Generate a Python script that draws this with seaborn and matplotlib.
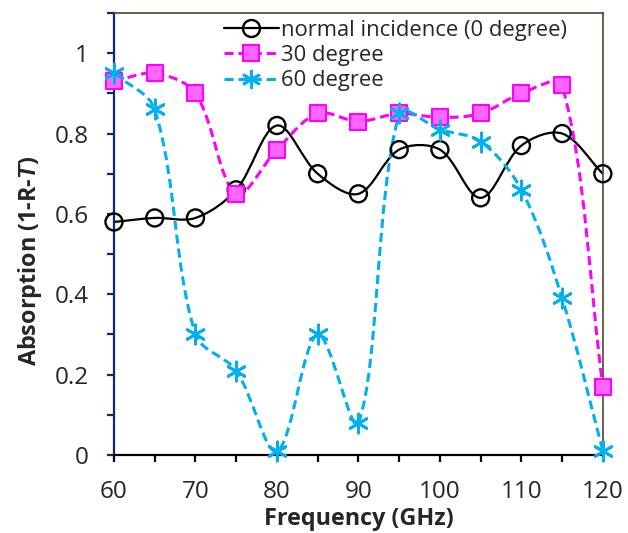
import matplotlib
matplotlib.use("Agg")
import matplotlib.pyplot as plt
import numpy as np
import seaborn as sns
from matplotlib.lines import Line2D
from matplotlib.patches import PathPatch
from matplotlib.path import Path
from matplotlib.ticker import MultipleLocator

freq = [60, 65, 70, 75, 80, 85, 90, 95, 100, 105, 110, 115, 120]
normal_0 = [0.58, 0.59, 0.59, 0.66, 0.82, 0.70, 0.65, 0.76, 0.76, 0.64, 0.77, 0.80, 0.70]
deg_30 = [0.93, 0.95, 0.90, 0.65, 0.76, 0.85, 0.83, 0.85, 0.84, 0.85, 0.90, 0.92, 0.17]
deg_60 = [0.95, 0.86, 0.30, 0.21, 0.01, 0.30, 0.08, 0.85, 0.81, 0.78, 0.66, 0.39, 0.01]
labels = ["normal incidence (0 degree)", "30 degree", "60 degree"]

sns.set_theme(style="white")
plt.rcParams["font.family"] = ["Open Sans", "DejaVu Sans"]
plt.rcParams["mathtext.fontset"] = "custom"
plt.rcParams["mathtext.rm"] = "Open Sans:bold"
plt.rcParams["mathtext.it"] = "Liberation Sans:italic:bold"

NAVY = "#0f2a6a"
OLIVE = "#4e4832"


def smooth_path(ax, x, y):
    # excel-style smoothed line, bezier handles weighted by on-screen segment length
    pts = ax.transData.transform(np.column_stack([x, y]).astype(float))
    ext = np.vstack([pts[0], pts, pts[-1]])
    verts = [pts[0]]
    codes = [Path.MOVETO]
    for i in range(1, len(ext) - 2):
        p0, p1, p2, p3 = ext[i - 1], ext[i], ext[i + 1], ext[i + 2]
        d01, d12, d23 = (np.hypot(*(b - a)) for a, b in [(p0, p1), (p1, p2), (p2, p3)])
        c1 = p1 + (p2 - p0) * d12 / max(d01 + d12, 1e-9) / 3
        c2 = p2 - (p3 - p1) * d12 / max(d12 + d23, 1e-9) / 3
        verts += [c1, c2, p2]
        codes += [Path.CURVE4] * 3
    verts = ax.transData.inverted().transform(np.array(verts))
    return Path(verts, codes)


fig = plt.figure(figsize=(6.28, 5.33), dpi=100)
ax = fig.add_axes([0.1815, 0.1463, 0.7785, 0.8293])
ax.set_xlim(60, 120)
ax.set_ylim(0, 1.1)

series = [
    (normal_0, dict(color="black", lw=1.6, ls="-"),
     dict(marker="o", s=150, facecolor="none", edgecolor="black", linewidth=1.7)),
    (deg_30, dict(color="#ff00ff", lw=2.2, ls=(0, (3, 1.6))),
     dict(marker="s", s=125, facecolor="#ff66ff", edgecolor="#ff00ff", linewidth=1.5)),
    (deg_60, dict(color="#00b0f0", lw=2.2, ls=(0, (3, 1.6))),
     dict(marker=(6, 2, 0), s=190, color="#00b0f0", edgecolor="#00b0f0", linewidth=2.0)),
]

handles = []
for k, (vals, line_kw, mk_kw) in enumerate(series):
    patch = PathPatch(smooth_path(ax, freq, vals), facecolor="none", edgecolor=line_kw["color"],
                      lw=line_kw["lw"], ls=line_kw["ls"], zorder=2 + k, clip_on=False)
    ax.add_patch(patch)
    sns.scatterplot(x=freq, y=vals, ax=ax, zorder=5 + k, clip_on=False, legend=False, **mk_kw)
    hm = dict(marker=mk_kw["marker"], markersize=np.sqrt(mk_kw["s"]),
              markeredgecolor=mk_kw["edgecolor"], markeredgewidth=mk_kw["linewidth"],
              markerfacecolor=mk_kw.get("facecolor", mk_kw.get("color")))
    handles.append(Line2D([], [], color=line_kw["color"], lw=line_kw["lw"], ls=line_kw["ls"], **hm))

ax.set_xlim(60, 120)
ax.set_ylim(0, 1.1)
ax.xaxis.set_major_locator(MultipleLocator(10))
ax.xaxis.set_minor_locator(MultipleLocator(5))
ax.yaxis.set_minor_locator(MultipleLocator(0.1))
ax.set_yticks([0, 0.2, 0.4, 0.6, 0.8, 1.0])
ax.set_yticklabels(["0", "0.2", "0.4", "0.6", "0.8", "1"])

ax.tick_params(axis="x", which="both", direction="out", length=5, width=1.6, color="black",
               labelsize=17.5, pad=13, bottom=True)
ax.tick_params(axis="y", which="both", direction="out", length=5, width=1.6, color=NAVY,
               labelsize=17.5, pad=13, left=True)

ax.spines["left"].set_color(NAVY)
ax.spines["left"].set_linewidth(1.6)
ax.spines["bottom"].set_color("black")
ax.spines["bottom"].set_linewidth(1.6)
ax.spines["top"].set_color(OLIVE)
ax.spines["top"].set_linewidth(1.2)
ax.spines["right"].set_color(OLIVE)
ax.spines["right"].set_linewidth(1.2)
ax.grid(False)

ax.set_xlabel("Frequency (GHz)", fontsize=16.8, fontweight="bold", labelpad=2.5)
ax.set_ylabel("Absorption (1-R-$\\mathit{T}$)", fontsize=16.8, fontweight="bold")
ax.yaxis.set_label_coords(-0.144, 0.44)

ax.legend(handles, labels, loc="upper left", bbox_to_anchor=(0.225, 0.985), frameon=False,
          fontsize=15.8, handlelength=2.5, handletextpad=0.1, labelspacing=0.2,
          borderpad=0, borderaxespad=0)

fig.savefig("out.png", dpi=100)
